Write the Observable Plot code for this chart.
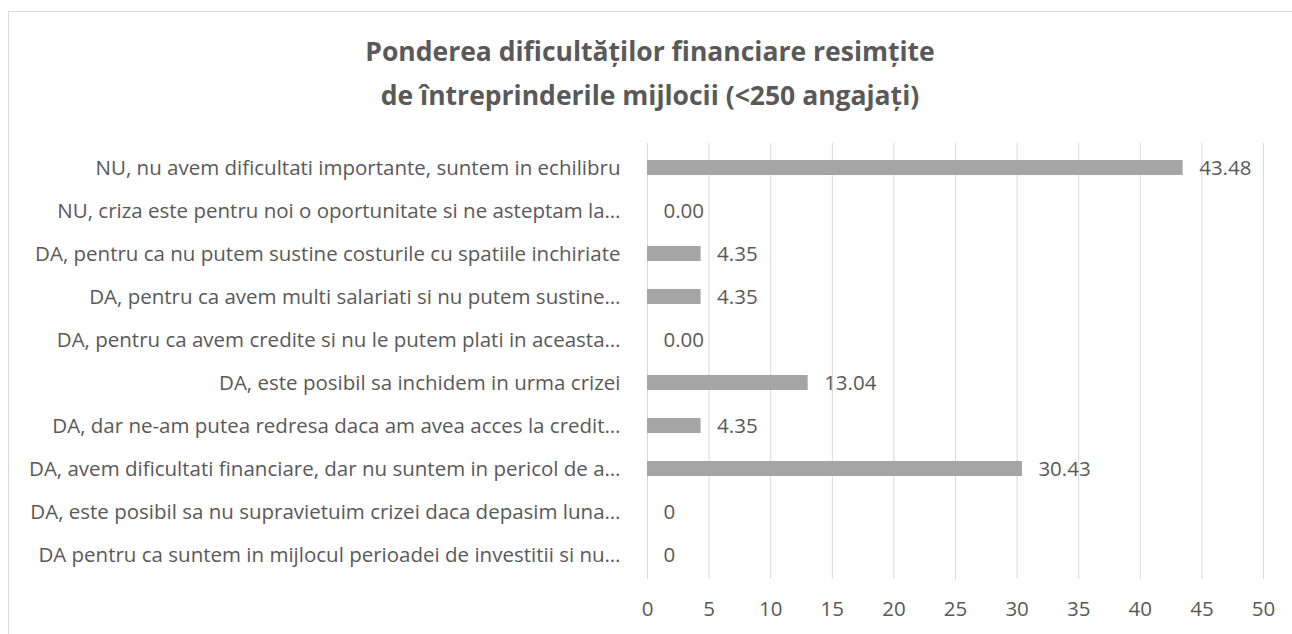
<!DOCTYPE html>
<html>
<head>
<meta charset="utf-8">
<script src="https://cdn.jsdelivr.net/npm/d3@7"></script>
<script src="https://cdn.jsdelivr.net/npm/@observablehq/plot@0.6"></script>
<style>
  html, body { margin: 0; padding: 0; background: #fff; overflow: hidden; }
  #wrap { position: relative; width: 1292px; height: 634px; overflow: hidden; }
  #frame { position: absolute; left: 8px; top: 11px; width: 1400px; height: 700px; border: 1px solid #d9d9d9; box-sizing: border-box; }
  #title { position: relative; height: 120px; box-sizing: border-box; padding-top: 29px; text-align: center;
           font-family: "Open Sans", sans-serif; font-weight: bold; font-size: 26.5px; line-height: 44px; color: #595959; padding-left: 8px; }
  #chart { position: absolute; left: 0; top: 120px; }
  #chart svg { display: block; }
</style>
</head>
<body>
<div id="wrap">
  <div id="frame"></div>
  <div id="title">Ponderea dificultăților financiare resimțite<br>de întreprinderile mijlocii (&lt;250 angajați)</div>
  <div id="chart"></div>
</div>
<script>
const categories = [
  "NU, nu avem dificultati importante, suntem in echilibru",
  "NU, criza este pentru noi o oportunitate si ne asteptam la…",
  "DA, pentru ca nu putem sustine costurile cu spatiile inchiriate",
  "DA, pentru ca avem multi salariati si nu putem sustine…",
  "DA, pentru ca avem credite si nu le putem plati in aceasta…",
  "DA, este posibil sa inchidem in urma crizei",
  "DA, dar ne-am putea redresa daca am avea acces la credit…",
  "DA, avem dificultati financiare, dar nu suntem in pericol de a…",
  "DA, este posibil sa nu supravietuim crizei daca depasim luna…",
  "DA pentru ca suntem in mijlocul perioadei de investitii si nu…"
];
const values = [43.48, 0.00, 4.35, 4.35, 0.00, 13.04, 4.35, 30.43, 0, 0];
const valueLabels = ["43.48", "0.00", "4.35", "4.35", "0.00", "13.04", "4.35", "30.43", "0", "0"];
const xTicks = [0, 5, 10, 15, 20, 25, 30, 35, 40, 45, 50];

const data = categories.map((c, i) => ({ category: c, value: values[i], label: valueLabels[i] }));

const chart = Plot.plot({
  width: 1292,
  height: 514,
  marginLeft: 647,
  marginRight: 29,
  marginTop: 23,
  marginBottom: 55,
  style: { fontFamily: "Open Sans, sans-serif", fontSize: "20.5px", color: "#595959", background: "transparent", overflow: "visible" },
  x: { domain: [0, 50], ticks: xTicks, label: null },
  y: { domain: categories, padding: 0, label: null },
  marks: [
    Plot.ruleX(xTicks, { stroke: "#d9d9d9", strokeWidth: 1 }),
    Plot.barX(data, { x: "value", y: "category", fill: "#a5a5a5", insetTop: 14, insetBottom: 14 }),
    Plot.text(data, { x: "value", y: "category", text: "label", textAnchor: "start", dx: 16, fill: "#595959", fontSize: 20.5 }),
    Plot.axisX({ ticks: xTicks, tickSize: 0, tickPadding: 22, fill: "#595959", fontSize: 20.5, tickFormat: d => String(d), label: null }),
    Plot.axisY({ tickSize: 0, tickPadding: 27, fill: "#595959", fontSize: 20.5, textOverflow: null, lineWidth: Infinity, label: null })
  ]
});
document.getElementById("chart").appendChild(chart);
</script>
</body>
</html>
